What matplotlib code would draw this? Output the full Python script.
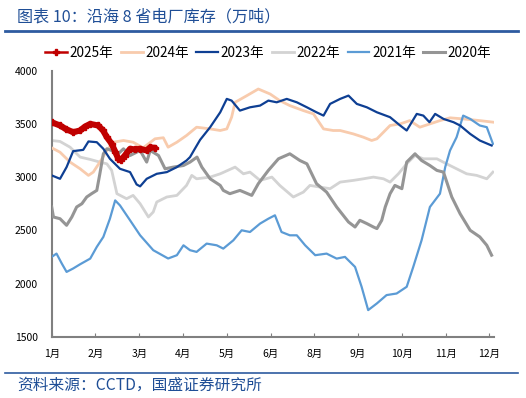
import matplotlib
matplotlib.use("Agg")
import matplotlib.pyplot as plt
from matplotlib.lines import Line2D

plt.rcParams['font.family'] = ['Noto Sans CJK SC', 'DejaVu Sans']

month_labels = ["1月", "2月", "3月", "4月", "5月", "6月", "8月", "9月", "10月", "11月", "12月"]
yticks = [1500, 2000, 2500, 3000, 3500, 4000]

x_2025 = [0.00, 0.19, 0.33, 0.49, 0.65, 0.76, 0.88, 1.06, 1.17, 1.26, 1.37, 1.45, 1.52, 1.58, 1.67, 1.79, 1.90, 2.02, 2.17, 2.25, 2.36]
v_2025 = [3515, 3485, 3450, 3422, 3438, 3475, 3500, 3485, 3440, 3375, 3313, 3240, 3172, 3160, 3203, 3266, 3260, 3266, 3250, 3280, 3275]

x_2024 = [0.00, 0.19, 0.42, 0.65, 0.84, 0.95, 1.10, 1.26, 1.41, 1.64, 1.86, 2.09, 2.36, 2.55, 2.66, 2.86, 3.08, 3.31, 3.62, 3.85, 4.00, 4.11, 4.19, 4.46, 4.72, 4.99, 5.21, 5.44, 5.75, 5.98, 6.21, 6.43, 6.59, 6.74, 6.89, 7.12, 7.31, 7.43, 7.58, 7.73, 7.96, 8.18, 8.41, 8.64, 8.87, 9.10, 9.40, 9.78, 10.09]
v_2024 = [3275, 3234, 3141, 3078, 3016, 3047, 3141, 3250, 3328, 3344, 3328, 3275, 3360, 3370, 3281, 3328, 3391, 3469, 3453, 3438, 3453, 3563, 3703, 3766, 3828, 3781, 3719, 3672, 3625, 3594, 3453, 3438, 3438, 3422, 3406, 3375, 3344, 3360, 3422, 3485, 3500, 3531, 3469, 3500, 3531, 3557, 3547, 3531, 3516]

x_2023 = [0.00, 0.19, 0.34, 0.49, 0.72, 0.84, 1.03, 1.18, 1.33, 1.56, 1.79, 1.94, 2.02, 2.17, 2.40, 2.63, 2.86, 3.08, 3.16, 3.27, 3.39, 3.62, 3.85, 4.00, 4.11, 4.30, 4.53, 4.76, 4.95, 5.14, 5.37, 5.60, 5.83, 6.05, 6.21, 6.36, 6.59, 6.78, 6.97, 7.20, 7.43, 7.73, 7.96, 8.11, 8.34, 8.49, 8.63, 8.76, 8.95, 9.18, 9.33, 9.56, 9.78, 10.05]
v_2023 = [3016, 2984, 3094, 3244, 3256, 3335, 3328, 3266, 3172, 3078, 3047, 2931, 2913, 2984, 3031, 3047, 3094, 3156, 3188, 3266, 3350, 3469, 3609, 3735, 3719, 3625, 3656, 3672, 3719, 3703, 3735, 3703, 3656, 3609, 3578, 3688, 3735, 3766, 3688, 3656, 3609, 3563, 3485, 3438, 3594, 3578, 3516, 3594, 3547, 3516, 3485, 3406, 3344, 3297]

x_2022 = [0.00, 0.19, 0.42, 0.65, 0.88, 1.10, 1.26, 1.37, 1.49, 1.71, 1.86, 2.02, 2.21, 2.32, 2.40, 2.63, 2.86, 3.08, 3.20, 3.31, 3.62, 3.85, 4.19, 4.38, 4.53, 4.76, 5.03, 5.21, 5.52, 5.75, 5.90, 6.13, 6.36, 6.59, 6.89, 7.12, 7.35, 7.58, 7.73, 7.92, 8.11, 8.30, 8.49, 8.80, 9.02, 9.25, 9.48, 9.71, 9.94, 10.08]
v_2022 = [3344, 3335, 3281, 3188, 3166, 3141, 3125, 3063, 2844, 2797, 2828, 2750, 2625, 2672, 2766, 2813, 2828, 2922, 3016, 2984, 3000, 3031, 3094, 3031, 3047, 2969, 3000, 2922, 2813, 2859, 2922, 2906, 2891, 2953, 2969, 2984, 3000, 2984, 2953, 3031, 3125, 3203, 3172, 3172, 3125, 3078, 3031, 3016, 2984, 3047]

x_2021 = [0.00, 0.11, 0.23, 0.34, 0.49, 0.65, 0.88, 1.03, 1.18, 1.33, 1.45, 1.56, 1.79, 2.02, 2.32, 2.66, 2.86, 3.01, 3.16, 3.31, 3.54, 3.77, 3.92, 4.15, 4.34, 4.53, 4.76, 4.95, 5.10, 5.25, 5.44, 5.60, 5.79, 6.02, 6.28, 6.51, 6.70, 6.93, 7.08, 7.23, 7.43, 7.65, 7.88, 8.11, 8.26, 8.45, 8.64, 8.87, 8.99, 9.10, 9.25, 9.40, 9.56, 9.78, 9.94, 10.08]
v_2021 = [2250, 2281, 2188, 2109, 2141, 2181, 2234, 2344, 2438, 2609, 2781, 2734, 2594, 2453, 2313, 2235, 2266, 2359, 2313, 2297, 2375, 2359, 2328, 2406, 2500, 2484, 2563, 2609, 2641, 2484, 2453, 2453, 2359, 2266, 2281, 2234, 2250, 2156, 1969, 1750, 1813, 1891, 1906, 1969, 2156, 2406, 2719, 2844, 3094, 3250, 3375, 3578, 3547, 3485, 3469, 3313]

x_2020 = [0.00, 0.04, 0.19, 0.34, 0.46, 0.57, 0.69, 0.80, 0.91, 1.03, 1.10, 1.18, 1.26, 1.37, 1.52, 1.64, 1.79, 2.02, 2.17, 2.25, 2.44, 2.59, 2.78, 3.01, 3.16, 3.32, 3.43, 3.62, 3.85, 3.92, 4.07, 4.30, 4.57, 4.72, 4.95, 5.18, 5.44, 5.67, 5.83, 6.05, 6.28, 6.51, 6.78, 6.93, 7.04, 7.20, 7.35, 7.43, 7.54, 7.62, 7.73, 7.84, 8.00, 8.11, 8.30, 8.45, 8.64, 8.80, 8.95, 9.14, 9.33, 9.56, 9.78, 9.94, 10.05]
v_2020 = [2719, 2625, 2609, 2547, 2625, 2719, 2750, 2813, 2844, 2875, 3031, 3219, 3266, 3250, 3219, 3266, 3203, 3250, 3141, 3250, 3203, 3078, 3094, 3109, 3141, 3188, 3094, 2984, 2922, 2875, 2844, 2875, 2828, 2938, 3063, 3172, 3219, 3156, 3125, 2938, 2859, 2719, 2578, 2531, 2594, 2563, 2531, 2516, 2594, 2719, 2844, 2922, 2891, 3141, 3219, 3156, 3109, 3063, 3047, 2813, 2656, 2500, 2438, 2359, 2266]

W, H = 526, 398
fig = plt.figure(figsize=(W / 100, H / 100), dpi=100)

ax_left, ax_right = 51.7, 493.8
ax_top, ax_bot = 70.7, 336.7
ax = fig.add_axes([ax_left / W, 1 - ax_bot / H, (ax_right - ax_left) / W, (ax_bot - ax_top) / H])

series = [
    ("2022年", x_2022, v_2022, "#D3D3D3", 2.0, 2),
    ("2024年", x_2024, v_2024, "#F8CBAD", 2.0, 3),
    ("2021年", x_2021, v_2021, "#5B9BD5", 1.6, 4),
    ("2020年", x_2020, v_2020, "#959595", 2.2, 5),
    ("2023年", x_2023, v_2023, "#0E3F93", 1.6, 6),
]
handles = {}
for name, xs, vs, c, lw, z in series:
    ln, = ax.plot(xs, vs, color=c, lw=lw, zorder=z, solid_joinstyle='round')
    handles[name] = ln

ln25, = ax.plot(x_2025, v_2025, color="#C00000", lw=4.4, zorder=8,
                marker='P', markersize=4.5, markevery=1, solid_capstyle='round')
handles["2025年"] = Line2D([], [], color="#C00000", lw=1.8, marker='P', markersize=4)

ax.set_xlim(0, 10.1)
ax.set_ylim(1500, 4000)
ax.set_xticks(range(len(month_labels)))
ax.set_xticklabels(month_labels, fontsize=7.5)
ax.set_yticks(yticks)
ax.set_yticklabels([str(v) for v in yticks], fontsize=7.5)
ax.tick_params(axis='x', direction='in', length=3, width=0.8, color='#7F7F7F', pad=9)
ax.tick_params(axis='y', length=0, pad=10)
for s in ['top', 'right']:
    ax.spines[s].set_visible(False)
for s in ['left', 'bottom']:
    ax.spines[s].set_color('#808080')
    ax.spines[s].set_linewidth(1.5)

order = ["2025年", "2024年", "2023年", "2022年", "2021年", "2020年"]
fig.legend([handles[k] for k in order], order, loc='center left',
           bbox_to_anchor=(45 / W, 1 - 53 / H), ncol=6, frameon=False,
           fontsize=9.8, handlelength=1.6, handletextpad=0.2, columnspacing=0.55,
           borderpad=0, borderaxespad=0)

blue = "#1F4E96"
fig.text(17 / W, 1 - 17 / H, "图表 10：沿海 8 省电厂库存（万吨）", color=blue,
         fontsize=11.6, va='center', ha='left')
fig.add_artist(Line2D([5 / W, 518 / W], [1 - 31 / H, 1 - 31 / H], color="#2E5BA0", lw=2.0))
fig.add_artist(Line2D([5 / W, 518 / W], [1 - 372.5 / H, 1 - 372.5 / H], color="#2E5BA0", lw=1.2))
fig.text(17 / W, 1 - 385 / H, "资料来源：CCTD，国盛证券研究所", color=blue,
         fontsize=11.3, va='center', ha='left')

fig.savefig("out.png", dpi=100)
